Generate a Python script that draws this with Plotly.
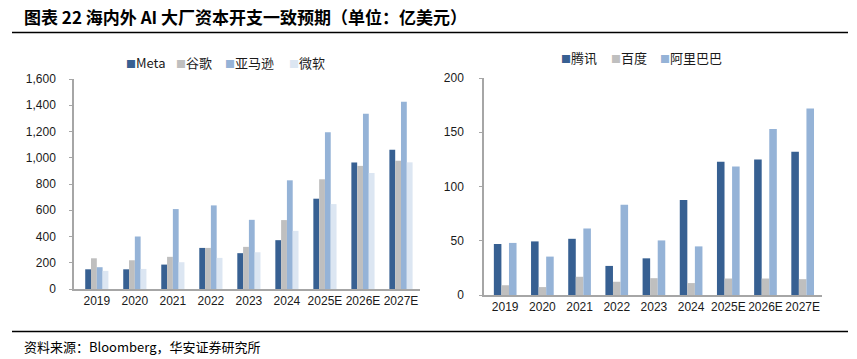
import plotly.graph_objects as go

years = ["2019", "2020", "2021", "2022", "2023", "2024", "2025E", "2026E", "2027E"]

# Left chart (overseas)
meta = [150, 150, 186, 313, 273, 372, 688, 964, 1061]
google = [234, 219, 245, 313, 321, 525, 836, 938, 977]
amazon = [166, 400, 609, 637, 527, 828, 1195, 1336, 1427]
microsoft = [138, 153, 204, 237, 280, 443, 647, 884, 965]
left_names = ["Meta", "谷歌", "亚马逊", "微软"]
left_ticks = [0, 200, 400, 600, 800, 1000, 1200, 1400, 1600]
left_ticktext = ["0", "200", "400", "600", "800", "1,000", "1,200", "1,400", "1,600"]

# Right chart (domestic)
tencent = [47, 49.4, 51.8, 26.8, 33.8, 87.5, 122.8, 125, 132.1]
baidu = [9, 7.3, 16.8, 12.2, 15.5, 11, 15.2, 15.2, 14.6]
alibaba = [48, 35.4, 61.3, 83.2, 50.3, 44.8, 118.5, 153.1, 171.9]
right_names = ["腾讯", "百度", "阿里巴巴"]
right_ticks = [0, 50, 100, 150, 200]

title_text = "图表 22 海内外 AI 大厂资本开支一致预期（单位：亿美元）"
source_text = "资料来源：Bloomberg，华安证券研究所"

C_DARK = "#376092"
C_GRAY = "#BFBFBF"
C_LIGHT = "#95B3D7"
C_PALE = "#DCE6F2"

W, H = 857, 359
CJK = "Noto Sans CJK SC"
LAT = "Liberation Sans, Arial, sans-serif"

fig = go.Figure()

for name, vals, col in zip(left_names, [meta, google, amazon, microsoft], [C_DARK, C_GRAY, C_LIGHT, C_PALE]):
    fig.add_trace(go.Bar(x=years, y=vals, name=name, marker=dict(color=col, line=dict(width=0)),
                         xaxis="x", yaxis="y", showlegend=False))
for name, vals, col in zip(right_names, [tencent, baidu, alibaba], [C_DARK, C_GRAY, C_LIGHT]):
    fig.add_trace(go.Bar(x=years, y=vals, name=name, marker=dict(color=col, line=dict(width=0)),
                         xaxis="x2", yaxis="y2", showlegend=False))

def px(x):
    return x / W

def py(y):
    return 1 - y / H

axis_line = dict(showline=True, linecolor="#A6A6A6", linewidth=1.5, showgrid=False, zeroline=False, automargin=False)
tickfont = dict(family=LAT, size=12, color="#1a1a1a")

fig.update_layout(
    template="none",
    width=W, height=H, margin=dict(l=0, r=0, t=0, b=0, pad=0, autoexpand=False),
    paper_bgcolor="white", plot_bgcolor="white",
    barmode="group",
    bargap=0.39,
    xaxis=dict(domain=[px(74), px(420)], anchor="y", type="category", range=[-0.6, 8.5],
               ticks="", tickfont=tickfont, **axis_line),
    yaxis=dict(domain=[py(289), py(79)], anchor="x", range=[0, 1600], tickvals=left_ticks, ticktext=left_ticktext,
               ticks="outside", ticklen=3, tickcolor="#A6A6A6", tickfont=tickfont, ticklabelstandoff=11, **axis_line),
    xaxis2=dict(domain=[px(484), px(822)], anchor="y2", type="category", range=[-0.57, 8.52],
                ticks="", tickfont=tickfont, **axis_line),
    yaxis2=dict(domain=[py(295), py(78)], anchor="x2", range=[0, 200], tickvals=right_ticks,
                ticks="outside", ticklen=3, tickcolor="#A6A6A6", tickfont=tickfont, ticklabelstandoff=13, **axis_line),
    showlegend=False,
)

annotations = []
shapes = []

# Title
annotations.append(dict(x=px(22), y=py(17), xref="paper", yref="paper", xanchor="left", yanchor="middle",
                        text="<b>" + title_text + "</b>", showarrow=False,
                        font=dict(family=CJK, size=17, color="#000000")))
shapes.append(dict(type="line", xref="paper", yref="paper", x0=px(12), x1=px(848), y0=py(32.5), y1=py(32.5),
                   line=dict(color="#000000", width=1.5)))
# Source
shapes.append(dict(type="line", xref="paper", yref="paper", x0=px(12), x1=px(848), y0=py(331.5), y1=py(331.5),
                   line=dict(color="#000000", width=1.5)))
annotations.append(dict(x=px(22), y=py(346), xref="paper", yref="paper", xanchor="left", yanchor="middle",
                        text=source_text, showarrow=False,
                        font=dict(family=CJK, size=13, color="#000000")))

def legend_items(names, colors, xs, yc):
    for n, c, x in zip(names, colors, xs):
        annotations.append(dict(x=px(x), y=py(yc), xref="paper", yref="paper", xanchor="left", yanchor="middle",
                                text=f"<span style='color:{c};font-size:10px'>■</span>{n}", showarrow=False,
                                font=dict(family=CJK, size=13, color="#1a1a1a")))

legend_items(left_names, [C_DARK, C_GRAY, C_LIGHT, C_PALE], [124, 174, 223, 287], 62)
legend_items(right_names, [C_DARK, C_GRAY, C_LIGHT], [559, 609, 658], 57.5)

fig.update_layout(annotations=annotations, shapes=shapes)

fig.write_html("out.html", config={"displayModeBar": False},
               post_script="document.body.style.margin='0px';document.body.style.overflow='hidden';")
